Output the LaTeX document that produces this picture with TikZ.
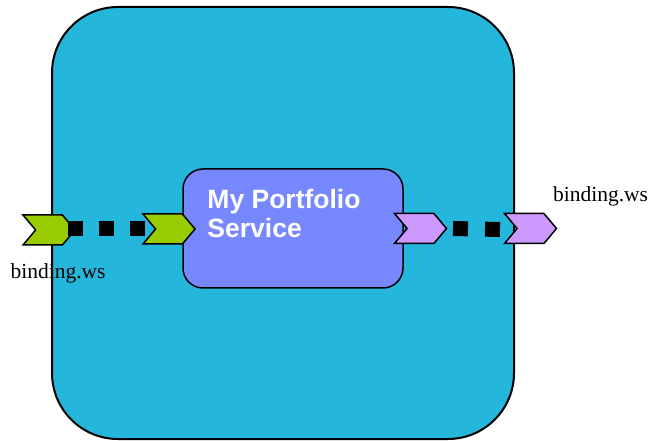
\documentclass[tikz,border=0pt]{standalone}
\usepackage{fontspec}
\setmainfont{Liberation Serif}
\setsansfont{Liberation Sans}
\usetikzlibrary{positioning,calc,shapes.symbols}
\definecolor{compblue}{RGB}{37,182,219}
\definecolor{svcblue}{RGB}{119,136,255}
\definecolor{svcgreen}{RGB}{153,204,0}
\definecolor{refpurple}{RGB}{204,153,255}

\begin{document}
\begin{tikzpicture}[x=1pt, y=-1pt, font=\fontsize{21.5}{25}\selectfont,
  composite/.style={draw, line width=2pt, fill=compblue, rounded corners=66pt,
    minimum width=462pt, minimum height=432pt},
  comp/.style={draw, line width=1.5pt, fill=svcblue, rounded corners=20pt,
    minimum width=220pt, minimum height=119pt},
  chevron/.style={draw, line width=1.5pt, shape=signal, signal from=west,
    signal to=east, signal pointer angle=100, minimum width=52pt,
    minimum height=30pt, inner sep=0pt},
  wire/.style={line width=15pt, dash pattern=on 15pt off 16pt}]
\useasboundingbox (0,0) rectangle (649,441);
% composite and its one component
\node[composite] (portfolio) at (283,223) {};
\node[comp] (svc) at (293,228.5) {};
\node[font=\sffamily\bfseries\fontsize{26.5}{29}\selectfont, white, align=left,
  anchor=base west, inner sep=0pt] (svcname) at ($(svc.north west)+(25,69)$)
  {My Portfolio\\Service};
% promoted service and reference
\node[chevron, fill=svcgreen] (svcpromo) at (49,230) {};
\node[chevron, fill=svcgreen] (svcport) at (169,229) {};
\node[chevron, fill=refpurple] (refport) at (420.5,228.5) {};
\node[chevron, fill=refpurple] (refpromo) at (530.5,228.5) {};
\node[anchor=base west, inner sep=0pt] (svcbind) at ($(svcpromo.south west)+(-11,33)$) {binding.ws};
\node[anchor=base west, inner sep=0pt] (refbind) at ($(refpromo.north west)+(50,-11)$) {binding.ws};
% wires
\draw[wire] ($(svcpromo.center)+(19,-1.5)$) -- ($(svcport.center)+(-24,-0.5)$);
\draw[wire, dash pattern=on 15pt off 17pt] ($(refport.center)+(32.5,0)$) -- ($(refpromo.center)+(-30.5,1)$);
\end{tikzpicture}
\end{document}
